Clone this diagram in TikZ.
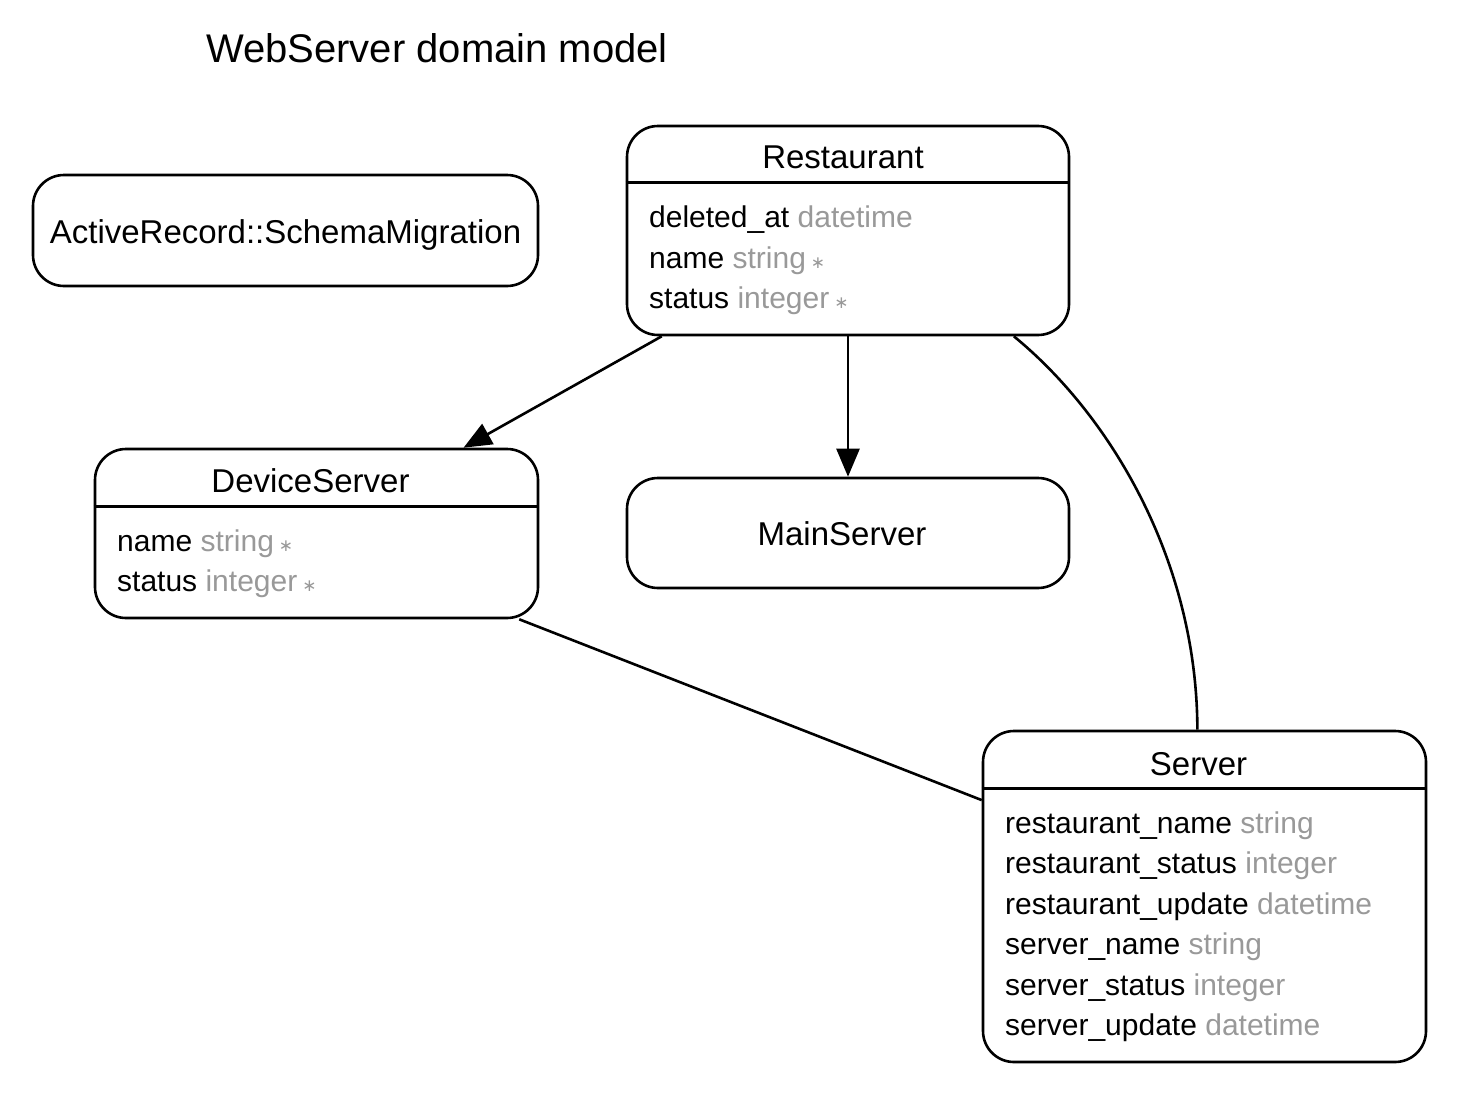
\documentclass[tikz,border=0pt]{standalone}
\usepackage{fontspec}
\setmainfont{Liberation Sans}
\newfontfamily\symfnt{DejaVu Sans}
\usetikzlibrary{arrows.meta,calc}
\definecolor{typegray}{HTML}{999999}
\newcommand\attrtype[1]{\textcolor{typegray}{#1}}
\newcommand\reqmark{\,{\symfnt\fontsize{17}{17}\selectfont\textcolor{typegray}{∗}}}
\begin{document}
\begin{tikzpicture}[x=1pt,y=-1pt,
  entity/.style={draw, line width=2.6pt, rounded corners=31pt, rectangle, inner sep=0pt, font=\fontsize{33}{33}\selectfont},
  ename/.style={font=\fontsize{33}{33}\selectfont, anchor=base, inner sep=0pt},
  attr/.style={font=\fontsize{30}{30}\selectfont, anchor=base west, inner sep=0pt},
  conn/.style={line width=2.6pt},
  arr/.style={conn, -{Triangle[length=28pt,width=23pt]}}]
\useasboundingbox (0,0) rectangle (1466,1108);

\node[font=\fontsize{40}{40}\selectfont, anchor=base, inner sep=0pt] (title) at (437,63) {WebServer domain model};

% entities
\node[entity, minimum width=505pt, minimum height=111pt] (arsm) at (285.5,230.5) {};
\node[font=\fontsize{33}{33}\selectfont, anchor=base, inner sep=0pt] (arsmname) at (285.5,243) {ActiveRecord::SchemaMigration};
\node[entity, minimum width=442pt, minimum height=209pt] (rest) at (848,230.5) {};
\node[entity, minimum width=443pt, minimum height=169pt] (dev) at (316.5,533.5) {};
\node[entity, minimum width=442pt, minimum height=110pt] (main) at (848,533) {};
\node[font=\fontsize{33}{33}\selectfont, anchor=base, inner sep=0pt] (mainname) at (842,545) {MainServer};
\node[entity, minimum width=443pt, minimum height=331pt] (srv) at (1204.5,896.5) {};

% dividers
\draw[conn] ($(rest.north west)+(0,58)$) -- ($(rest.north east)+(0,58)$);
\draw[conn] ($(dev.north west)+(0,59)$) -- ($(dev.north east)+(0,59)$);
\draw[conn] ($(srv.north west)+(0,59)$) -- ($(srv.north east)+(0,59)$);

% Restaurant
\node[ename] (restname) at (843,168) {Restaurant};
\node[attr] (ra1) at (649,227) {deleted\_at \attrtype{datetime}};
\node[attr] (ra2) at (649,268) {name \attrtype{string}\reqmark};
\node[attr] (ra3) at (649,308.5) {status \attrtype{integer}\reqmark};

% DeviceServer
\node[ename] (devname) at (310.5,492) {DeviceServer};
\node[attr] (da1) at (117,551) {name \attrtype{string}\reqmark};
\node[attr] (da2) at (117,591.5) {status \attrtype{integer}\reqmark};

% Server
\node[ename] (srvname) at (1198.5,775) {Server};
\node[attr] (sa1) at (1005,833) {restaurant\_name \attrtype{string}};
\node[attr] (sa2) at (1005,873.5) {restaurant\_status \attrtype{integer}};
\node[attr] (sa3) at (1005,914) {restaurant\_update \attrtype{datetime}};
\node[attr] (sa4) at (1005,954.5) {server\_name \attrtype{string}};
\node[attr] (sa5) at (1005,995) {server\_status \attrtype{integer}};
\node[attr] (sa6) at (1005,1035.5) {server\_update \attrtype{datetime}};

% connectors
\draw[arr] ($(rest.south west)!0.081!(rest.south east)$) -- ($(dev.north west)!0.83!(dev.north east)$);
\draw[arr] (rest.south) -- (main.north);
\draw[conn] ($(rest.south west)!0.873!(rest.south east)$) .. controls (1110,415) and (1197,560) .. ($(srv.north west)!0.484!(srv.north east)$);
\draw[conn] ($(dev.south west)!0.955!(dev.south east)$) -- ($(srv.north west)!0.211!(srv.south west)$);
\end{tikzpicture}
\end{document}
